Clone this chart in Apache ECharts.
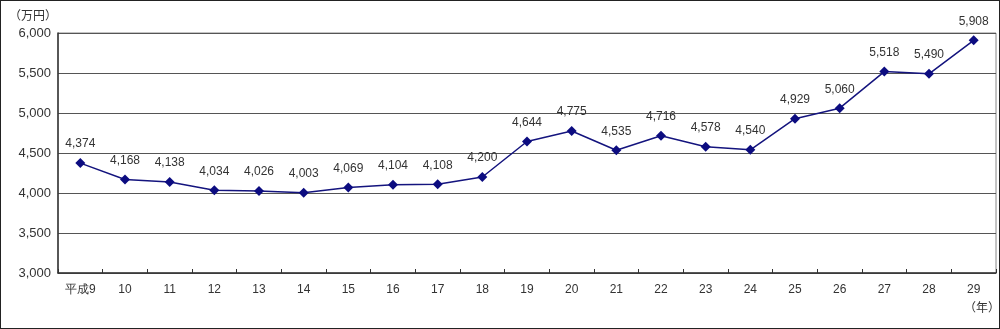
<!DOCTYPE html>
<html><head><meta charset="utf-8">
<script src="https://cdn.jsdelivr.net/npm/echarts@6/dist/echarts.min.js"></script>
<style>
html,body{margin:0;padding:0;background:#fff;}
#c{width:998px;height:327px;border:1px solid #222;}
</style></head>
<body><div id="c"></div>
<script>
var categories = ['平成9','10','11','12','13','14','15','16','17','18','19','20','21','22','23','24','25','26','27','28','29'];
var values = [4374,4168,4138,4034,4026,4003,4069,4104,4108,4200,4644,4775,4535,4716,4578,4540,4929,5060,5518,5490,5908];
var yMin = 3000, yMax = 6000, yStep = 500;
var yUnit = '（万円）', xUnit = '（年）';

var chart = echarts.init(document.getElementById('c'));
var font = 'Liberation Sans, Arial, sans-serif';
chart.setOption({
  animation:false,
  grid:{left:57,right:3,top:32,bottom:55,show:true,borderColor:'#888',borderWidth:1},
  graphic:[
    {type:'text',left:8,top:8,style:{text:yUnit,font:'12px "Noto Sans CJK JP", sans-serif',fill:'#333'}},
    {type:'text',left:963,top:300,style:{text:xUnit,font:'12px "Noto Sans CJK JP", sans-serif',fill:'#333'}}
  ],
  xAxis:{type:'category',data:categories,boundaryGap:true,
    axisLine:{lineStyle:{color:'#333',width:1.5}},
    axisTick:{show:true,inside:true,length:4,lineStyle:{color:'#333'}},
    axisLabel:{color:'#333',fontSize:12,fontFamily:font,margin:11}},
  yAxis:{type:'value',min:yMin,max:yMax,interval:yStep,
    axisLine:{show:true,lineStyle:{color:'#333',width:1.5}},
    axisTick:{show:false},
    splitLine:{lineStyle:{color:'#555',width:1}},
    axisLabel:{color:'#333',fontSize:13,fontFamily:font,margin:7,
      formatter:function(v){return v.toLocaleString('en-US');}}},
  series:[{type:'line',data:values,symbol:'diamond',symbolSize:10,
    lineStyle:{color:'#14147e',width:1.5},
    itemStyle:{color:'#0c0c80'},
    label:{show:true,position:'top',distance:8,color:'#333',fontSize:12,fontFamily:font,
      formatter:function(p){return p.value.toLocaleString('en-US');}}}]
});
</script></body></html>
